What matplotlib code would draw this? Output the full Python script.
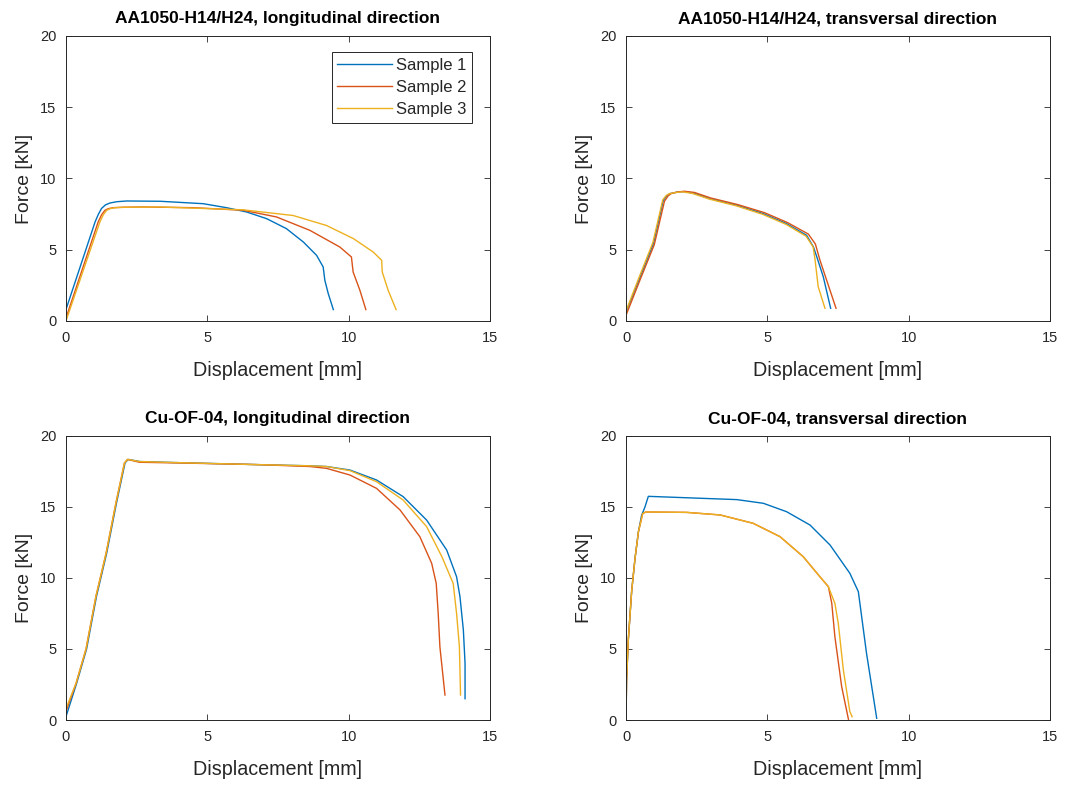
import matplotlib.pyplot as plt

plt.rcParams['font.family'] = ['Liberation Sans', 'DejaVu Sans']

# MATLAB default line colors
colors = ['#0072BD', '#D95319', '#EDB120']
labels = ['Sample 1', 'Sample 2', 'Sample 3']

# AA1050, longitudinal
al_long_x = [
    [0, 1.03, 1.15, 1.26, 1.4, 1.56, 1.8, 2.15, 3.33, 4.86, 5.68, 6.39, 7.1, 7.8, 8.4, 8.87, 9.1, 9.16, 9.28, 9.46],
    [0, 1.14, 1.26, 1.38, 1.5, 1.67, 2.0, 2.74, 4.5, 6.27, 7.45, 8.63, 9.69, 10.1, 10.16, 10.4, 10.61],
    [0, 1.2, 1.32, 1.44, 1.56, 1.73, 2.1, 3.33, 6.27, 8.04, 9.22, 10.17, 10.87, 11.17, 11.19, 11.4, 11.68],
]
al_long_y = [
    [0.8, 6.95, 7.5, 7.9, 8.15, 8.28, 8.37, 8.42, 8.4, 8.23, 7.95, 7.65, 7.18, 6.48, 5.54, 4.6, 3.79, 2.85, 1.92, 0.8],
    [0.2, 6.95, 7.45, 7.77, 7.88, 7.95, 7.98, 8.0, 7.95, 7.77, 7.3, 6.36, 5.19, 4.49, 3.44, 2.15, 0.8],
    [0.0, 6.95, 7.45, 7.77, 7.88, 7.95, 7.98, 8.0, 7.8, 7.4, 6.7, 5.78, 4.84, 4.26, 3.44, 2.15, 0.8],
]

# AA1050, transversal
al_trans_x = [
    [0, 0.5, 0.97, 1.32, 1.45, 1.56, 1.8, 2.03, 2.38, 2.97, 3.92, 4.86, 5.68, 6.39, 6.63, 6.75, 6.98, 7.24],
    [0, 0.52, 1.0, 1.36, 1.49, 1.6, 1.84, 2.07, 2.42, 3.0, 3.95, 4.9, 5.72, 6.45, 6.7, 6.86, 7.16, 7.43],
    [0, 0.48, 0.95, 1.3, 1.43, 1.54, 1.78, 2.0, 2.35, 2.95, 3.9, 4.84, 5.66, 6.37, 6.62, 6.69, 6.8, 7.04],
]
al_trans_y = [
    [0.6, 3.1, 5.43, 8.47, 8.8, 8.94, 9.04, 9.08, 8.98, 8.58, 8.12, 7.53, 6.83, 6.01, 5.2, 4.5, 3.1, 0.89],
    [0.4, 3.0, 5.35, 8.4, 8.78, 8.94, 9.06, 9.1, 9.02, 8.63, 8.17, 7.6, 6.9, 6.1, 5.4, 4.28, 2.5, 0.89],
    [0.7, 3.15, 5.5, 8.5, 8.82, 8.94, 9.02, 9.06, 8.95, 8.55, 8.08, 7.48, 6.78, 5.95, 5.2, 4.28, 2.4, 0.89],
]

# Cu-OF-04, longitudinal
cu_long_x = [
    [0, 0.38, 0.73, 1.08, 1.44, 1.79, 2.09, 2.2, 2.62, 4.03, 6.86, 8.63, 9.22, 10.05, 10.99, 11.93, 12.76, 13.47, 13.82, 13.94, 14.06, 14.12, 14.12],
    [0, 0.36, 0.71, 1.06, 1.42, 1.77, 2.07, 2.18, 2.6, 4.03, 6.86, 8.63, 9.22, 10.05, 10.99, 11.82, 12.52, 12.94, 13.1, 13.17, 13.23, 13.41],
    [0, 0.36, 0.71, 1.06, 1.42, 1.77, 2.07, 2.18, 2.6, 4.03, 6.86, 8.63, 9.22, 10.05, 10.99, 11.93, 12.76, 13.3, 13.7, 13.82, 13.92, 13.96],
]
cu_long_y = [
    [0.23, 2.6, 5.0, 8.7, 11.74, 15.3, 18.1, 18.35, 18.2, 18.12, 17.98, 17.9, 17.85, 17.6, 16.9, 15.73, 14.08, 11.97, 10.09, 8.69, 6.34, 3.99, 1.5],
    [0.6, 2.6, 5.0, 8.7, 11.74, 15.3, 18.1, 18.35, 18.15, 18.1, 17.98, 17.85, 17.72, 17.25, 16.31, 14.79, 12.91, 11.03, 9.62, 7.51, 5.16, 1.76],
    [0.8, 2.6, 5.0, 8.7, 11.74, 15.3, 18.1, 18.35, 18.2, 18.12, 17.98, 17.9, 17.85, 17.56, 16.78, 15.49, 13.62, 11.5, 9.62, 7.51, 5.16, 1.76],
]

# Cu-OF-04, transversal
cu_trans_x = [
    [0, 0.02, 0.08, 0.2, 0.32, 0.44, 0.55, 0.67, 0.79, 2.15, 3.92, 4.86, 5.68, 6.51, 7.22, 7.92, 8.22, 8.51, 8.87],
    [0, 0.02, 0.08, 0.2, 0.32, 0.44, 0.59, 0.7, 2.15, 3.33, 4.5, 5.45, 6.27, 6.86, 7.16, 7.28, 7.39, 7.63, 7.87],
    [0, 0.02, 0.08, 0.2, 0.32, 0.44, 0.59, 0.7, 2.15, 3.33, 4.5, 5.45, 6.27, 6.86, 7.16, 7.39, 7.51, 7.69, 7.92, 8.0],
]
cu_trans_y = [
    [0.0, 2.8, 5.6, 9.07, 11.4, 13.26, 14.4, 15.0, 15.75, 15.65, 15.52, 15.26, 14.67, 13.73, 12.32, 10.33, 9.04, 4.69, 0.12],
    [0.0, 2.8, 5.6, 9.07, 11.4, 13.26, 14.53, 14.65, 14.62, 14.44, 13.85, 12.91, 11.5, 10.09, 9.39, 8.22, 5.87, 2.35, 0.05],
    [0.0, 2.8, 5.6, 9.07, 11.4, 13.26, 14.53, 14.65, 14.62, 14.44, 13.85, 12.91, 11.5, 10.09, 9.39, 8.22, 6.81, 3.52, 0.59, 0.23],
]

titles = ['AA1050-H14/H24, longitudinal direction', 'AA1050-H14/H24, transversal direction',
          'Cu-OF-04, longitudinal direction', 'Cu-OF-04, transversal direction']
datasets = [(al_long_x, al_long_y), (al_trans_x, al_trans_y),
            (cu_long_x, cu_long_y), (cu_trans_x, cu_trans_y)]

# axes boxes in figure fractions
boxes = [[0.0617, 0.5911, 0.3966, 0.3631],
         [0.5856, 0.5911, 0.3966, 0.3631],
         [0.0617, 0.0828, 0.3966, 0.3618],
         [0.5856, 0.0828, 0.3966, 0.3618]]

fig = plt.figure(figsize=(10.69, 7.85), dpi=100)
dark = '#262626'

for i, (box, title, (xs, ys)) in enumerate(zip(boxes, titles, datasets)):
    ax = fig.add_axes(box)
    for x, y, c, lab in zip(xs, ys, colors, labels):
        ax.plot(x, y, color=c, lw=1.0, label=lab)
    ax.set_xlim(0, 15)
    ax.set_ylim(0, 20)
    ax.set_xticks([0, 5, 10, 15])
    ax.set_yticks([0, 5, 10, 15, 20])
    ax.tick_params(direction='in', top=True, right=True, length=4, width=0.6,
                   colors=dark, labelsize=10.5, pad=7)
    for s in ax.spines.values():
        s.set_color(dark)
        s.set_linewidth(0.7)
    ax.set_title(title, fontsize=12.5, fontweight='bold', color='black', pad=9)
    ax.set_xlabel('Displacement [mm]', fontsize=14.2, color=dark, labelpad=12)
    ax.set_ylabel('Force [kN]', fontsize=14, color=dark, labelpad=5)
    if i == 0:
        leg = ax.legend(loc='upper right', bbox_to_anchor=(0.958, 0.944), fontsize=12,
                        fancybox=False, framealpha=1, edgecolor=dark,
                        handlelength=3.3, handletextpad=0.2, borderpad=0.35,
                        labelspacing=0.42, borderaxespad=0)
        leg.get_frame().set_linewidth(0.7)
        for t in leg.get_texts():
            t.set_color(dark)

fig.savefig('out.png', dpi=100)
